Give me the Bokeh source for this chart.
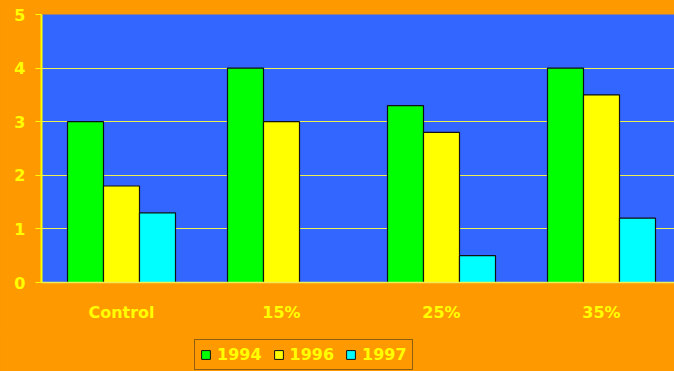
from bokeh.plotting import figure
from bokeh.layouts import column
from bokeh.models import ColumnDataSource, Range1d, FixedTicker, Legend, LegendItem
from bokeh.transform import dodge
from bokeh.embed import file_html
from bokeh.resources import INLINE

categories = ["Control", "15%", "25%", "35%"]
series_names = ["1994", "1996", "1997"]
v1994 = [3.0, 4.0, 3.3, 4.0]
v1996 = [1.8, 3.0, 2.8, 3.5]
v1997 = [1.3, float("nan"), 0.5, 1.2]
colors = ["#00FF00", "#FFFF00", "#00FFFF"]
y_ticks = [0, 1, 2, 3, 4, 5]

idx = list(range(len(categories)))
src = ColumnDataSource(dict(x=idx, a=v1994, b=v1996, c=v1997))

ORANGE = "#FF9900"
YEL = "#FFFF00"
GRID = "#EEEE55"
FONT = "DejaVu Sans"

p = figure(width=674, height=335, output_backend="svg", toolbar_location=None,
           x_range=Range1d(-0.5, -0.5 + 633 / 160), y_range=Range1d(0, 5),
           min_border_left=41, min_border_right=0, min_border_top=14, min_border_bottom=53)
p.background_fill_color = "#3366FF"
p.border_fill_color = ORANGE
p.outline_line_color = None

w = 0.225
for key, off, col in zip(["a", "b", "c"], [-0.225, 0.0, 0.225], colors):
    p.vbar(x=dodge("x", off, range=p.x_range), top=key, width=w, source=src,
           fill_color=col, line_color="#111111", line_width=1.2)

p.xaxis.ticker = FixedTicker(ticks=idx)
p.xaxis.major_label_overrides = {i: c for i, c in zip(idx, categories)}
p.xaxis.axis_line_color = GRID
p.xaxis.axis_line_width = 1.5
p.xaxis.major_tick_line_color = None
p.xaxis.minor_tick_line_color = None
p.xaxis.major_tick_out = 0
p.xaxis.major_tick_in = 0
p.xaxis.major_label_standoff = 20
p.xaxis.major_label_text_color = YEL
p.xaxis.major_label_text_font = FONT
p.xaxis.major_label_text_font_style = "bold"
p.xaxis.major_label_text_font_size = "16px"

p.yaxis.ticker = FixedTicker(ticks=y_ticks)
p.yaxis.axis_line_color = YEL
p.yaxis.axis_line_width = 2
p.yaxis.major_tick_line_color = YEL
p.yaxis.major_tick_out = 6
p.yaxis.major_tick_in = 0
p.yaxis.minor_tick_line_color = None
p.yaxis.major_label_standoff = 10
p.yaxis.major_label_text_color = YEL
p.yaxis.major_label_text_font = FONT
p.yaxis.major_label_text_font_style = "bold"
p.yaxis.major_label_text_font_size = "16px"

p.xgrid.grid_line_color = None
p.ygrid.grid_line_color = GRID
p.ygrid.grid_line_width = 1

# legend strip (keys only; its glyphs sit outside the strip's visible range)
q = figure(width=674, height=36, output_backend="svg", toolbar_location=None,
           x_range=Range1d(-1.0, -0.5), y_range=Range1d(0, 1),
           x_axis_location=None, y_axis_location=None,
           min_border_left=0, min_border_right=0, min_border_top=0, min_border_bottom=0)
q.background_fill_alpha = 0
q.border_fill_color = ORANGE
q.outline_line_color = None
q.xgrid.grid_line_color = None
q.ygrid.grid_line_color = None
keys = []
for key, col in zip(["a", "b", "c"], colors):
    keys.append(q.vbar(x="x", top=key, width=0.1, source=src,
                       fill_color=col, line_color="#111111"))

legend = Legend(items=[LegendItem(label=n, renderers=[r]) for n, r in zip(series_names, keys)],
                orientation="horizontal", location=(153, 1))
legend.background_fill_color = ORANGE
legend.background_fill_alpha = 1
legend.border_line_color = "#222222"
legend.label_text_color = YEL
legend.label_text_font = FONT
legend.label_text_font_style = "bold"
legend.label_text_font_size = "16px"
legend.glyph_width = 11
legend.glyph_height = 11
legend.spacing = 11
legend.padding = 5
legend.margin = 0
legend.label_standoff = 6
q.add_layout(legend, "center")

layout = column(p, q, spacing=0, styles={"background-color": ORANGE})
open("out.html", "w").write(file_html(layout, INLINE))
